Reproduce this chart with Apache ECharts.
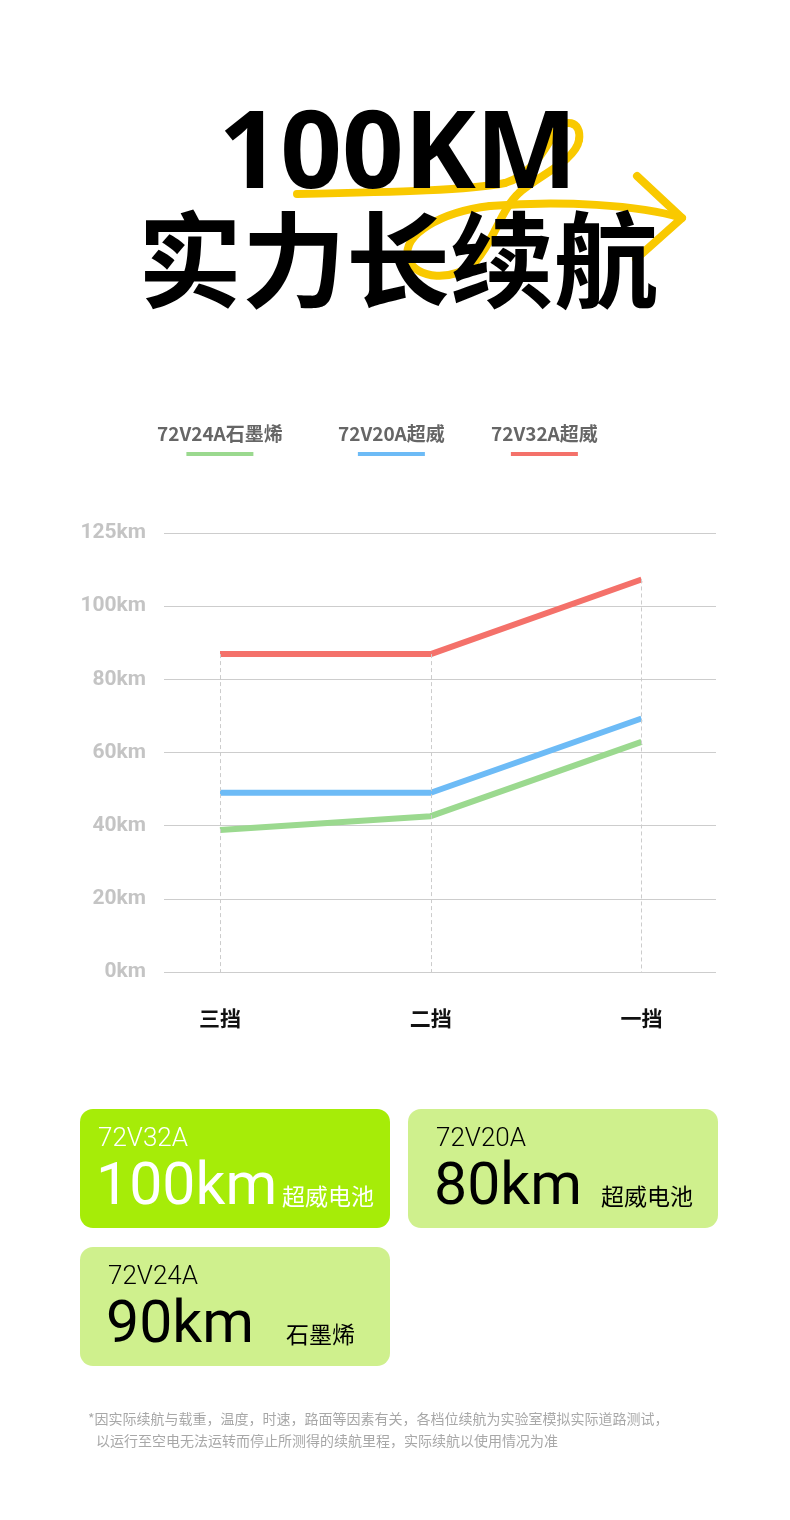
<!DOCTYPE html>
<html><head><meta charset="utf-8">
<script src="https://cdn.jsdelivr.net/npm/echarts@6/dist/echarts.min.js"></script>
<style>html,body{margin:0;padding:0;background:#fff}#c{width:790px;height:1520px}</style>
</head><body><div id="c"></div>
<script>
const categories = ['三挡', '二挡', '一挡'];
const seriesNames = ['72V24A石墨烯', '72V20A超威', '72V32A超威'];
const graphene24A = [38.8, 42.6, 62.9];
const chaowei20A = [49.0, 49.0, 69.3];
const chaowei32A = [86.9, 86.9, 107.3];
const yTickLabels = ['0km', '20km', '40km', '60km', '80km', '100km', '125km'];
const cardModels = ['72V32A', '72V20A', '72V24A'];
const cardRanges = ['100km', '80km', '90km'];
const cardBatteries = ['超威电池', '超威电池', '石墨烯'];
const titleLine1 = '100KM';
const titleLine2 = '实力长续航';
const footnotes = ['*因实际续航与载重，温度，时速，路面等因素有关，各档位续航为实验室模拟实际道路测试，',
                   '以运行至空电无法运转而停止所测得的续航里程，实际续航以使用情况为准'];

const colors = ['#9BD98F', '#6DBBF6', '#F4716A'];
const seriesData = [graphene24A, chaowei20A, chaowei32A];
const CJK = '"Noto Sans CJK SC", "Noto Sans", sans-serif';
const NUM = 'Roboto, "Noto Sans", sans-serif';

const chart = echarts.init(document.getElementById('c'), null, {renderer: 'canvas'});

const peaks = categories.map((c, i) => Math.max(...seriesData.map(s => s[i])));
const guideLines = categories.map((c, i) => [{coord: [i, peaks[i]]}, {coord: [i, 0]}]);

const legendLefts = [151, 332, 485];
const legends = seriesNames.map((n, i) => ({
  data: [n], left: legendLefts[i], top: 424, padding: 0, itemGap: 0,
  itemWidth: 0, itemHeight: 0, selectedMode: false,
  formatter: name => '{t|' + name + '}\n{l' + i + '|}',
  textStyle: {
    rich: {
      t: {fontSize: 19, fontWeight: 'bold', color: '#666', lineHeight: 24, align: 'center', fontFamily: CJK},
      ['l' + i]: {width: 67, height: 4, backgroundColor: colors[i], lineHeight: 17, align: 'center'}
    }
  }
}));

const cardBoxes = [
  {x: 80, y: 1109, fill: '#A6EC08', txt: '#fff'},
  {x: 408, y: 1109, fill: '#CFF08D', txt: '#000'},
  {x: 80, y: 1247, fill: '#CFF08D', txt: '#000'}
];
const cardTextX = [[98, 96, 282], [436, 434, 601], [108, 106, 286]];
const cardGraphics = [];
cardBoxes.forEach((b, i) => {
  cardGraphics.push({type: 'rect', z: 1, shape: {x: b.x, y: b.y, width: 310, height: 119, r: 13}, style: {fill: b.fill}});
  cardGraphics.push({type: 'text', z: 2, x: cardTextX[i][0], y: b.y + 30, style: {text: cardModels[i], font: '300 26px ' + NUM, fill: b.txt, textVerticalAlign: 'middle'}});
  cardGraphics.push({type: 'text', z: 2, x: cardTextX[i][1], y: b.y + 80, style: {text: cardRanges[i], font: '400 59px ' + NUM, fill: b.txt, textVerticalAlign: 'middle'}});
  cardGraphics.push({type: 'text', z: 2, x: cardTextX[i][2], y: b.y + 87, style: {text: cardBatteries[i], font: '400 23px ' + CJK, fill: b.txt, textVerticalAlign: 'middle'}});
});

// decorative yellow scribble (cubic segments)
const scribbleSegs = [
  [297,194, 400,192, 470,190, 505,183],
  [505,183, 530,176, 545,150, 555,132],
  [555,132, 563,118, 582,120, 579,140],
  [579,140, 576,160, 540,175, 520,192],
  [520,192, 500,210, 495,240, 475,262],
  [475,262, 455,282, 415,280, 408,258],
  [408,258, 402,235, 440,212, 490,206],
  [490,206, 560,200, 640,205, 682,218]
];
const scribbleStyle = {fill: null, stroke: '#F9C900', lineWidth: 8, lineCap: 'round', lineJoin: 'round'};
const scribble = scribbleSegs.map(s => ({type: 'bezierCurve', z: 1,
  shape: {x1: s[0], y1: s[1], cpx1: s[2], cpy1: s[3], cpx2: s[4], cpy2: s[5], x2: s[6], y2: s[7]},
  style: scribbleStyle}));
scribble.push({type: 'polyline', z: 1, shape: {points: [[637,176], [682,218], [636,259]]}, style: scribbleStyle});

const option = {
  backgroundColor: '#fff',
  animation: false,
  legend: legends,
  grid: [
    {left: 164, right: 74, top: 533, bottom: 548},
    {left: 220, right: 148.5, top: 533, bottom: 548}
  ],
  xAxis: [
    {gridIndex: 0, type: 'category', data: categories, show: false},
    {gridIndex: 1, type: 'category', data: categories, boundaryGap: false,
     axisLine: {show: false}, axisTick: {show: false}, splitLine: {show: false},
     axisLabel: {margin: 36, fontSize: 21, fontWeight: 'bold', color: '#111', fontFamily: CJK}}
  ],
  yAxis: [
    {gridIndex: 0, type: 'value', min: 0, max: 120, interval: 20,
     axisLine: {show: false}, axisTick: {show: false},
     splitLine: {lineStyle: {color: '#cdcdcd', width: 1}},
     axisLabel: {margin: 18, fontSize: 21, fontWeight: 'bold', color: '#c4c4c4', fontFamily: NUM,
                 formatter: v => yTickLabels[Math.round(v / 20)]}},
    {gridIndex: 1, type: 'value', min: 0, max: 120, interval: 20, show: false, splitLine: {show: false}}
  ],
  series: [
    {type: 'line', name: '_guide', xAxisIndex: 1, yAxisIndex: 1, data: [], z: 1, silent: true,
     markLine: {symbol: 'none', silent: true, animation: false, label: {show: false},
                lineStyle: {type: [4, 3], color: '#cccccc', width: 1}, emphasis: {disabled: true}, data: guideLines}}
  ].concat(seriesNames.map((n, i) => ({
    type: 'line', name: n, xAxisIndex: 1, yAxisIndex: 1, data: seriesData[i], z: 3,
    symbol: 'none', lineStyle: {width: 6, color: colors[i], cap: 'butt'}, itemStyle: {color: colors[i]}
  }))),
  graphic: scribble.concat([
    {type: 'text', z: 5, x: 398, y: 157, style: {text: titleLine1, font: 'bold 108px "Noto Sans", ' + CJK, fill: '#000', textAlign: 'center', textVerticalAlign: 'middle'}},
    {type: 'text', z: 5, x: 398, y: 260, style: {text: titleLine2, font: 'bold 104px ' + CJK, fill: '#000', textAlign: 'center', textVerticalAlign: 'middle'}},
    {type: 'text', z: 2, x: 88, y: 1419, style: {text: footnotes[0], font: '14px ' + CJK, fill: '#a8a8a8', textVerticalAlign: 'middle'}},
    {type: 'text', z: 2, x: 96, y: 1441, style: {text: footnotes[1], font: '14px ' + CJK, fill: '#a8a8a8', textVerticalAlign: 'middle'}}
  ]).concat(cardGraphics)
};
chart.setOption(option);
</script>
</body></html>
